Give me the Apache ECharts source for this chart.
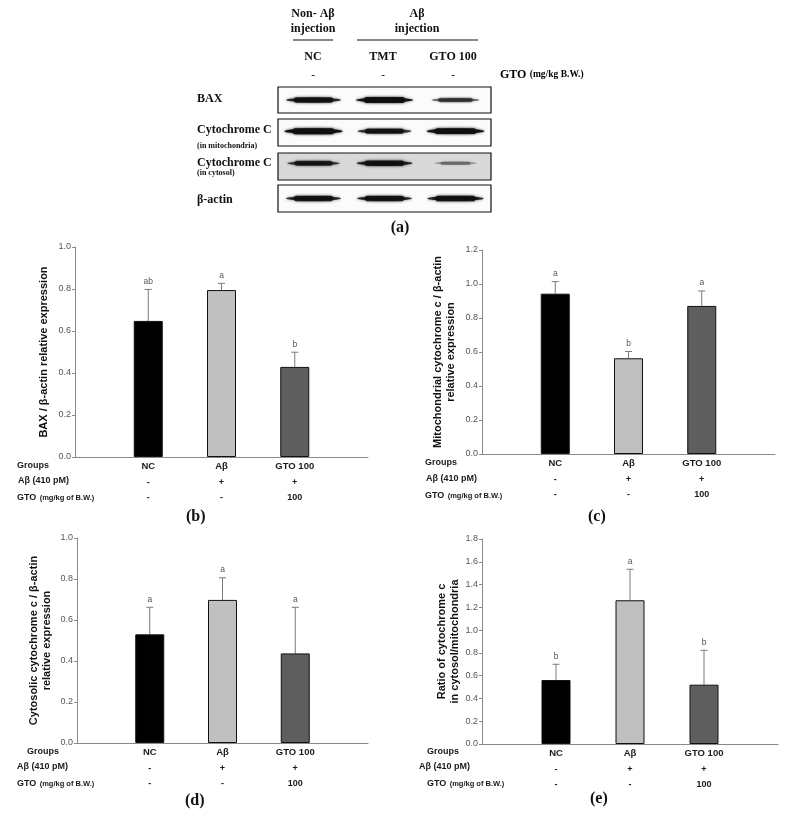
<!DOCTYPE html>
<html><head><meta charset="utf-8">
<script src="https://cdn.jsdelivr.net/npm/echarts@6/dist/echarts.min.js"></script>
<style>html,body{margin:0;padding:0;background:#fff}#c{width:785px;height:819px}</style>
</head><body><div id="c"></div>
<script>
// ---------- data ----------
const groups = ['NC', 'Aβ', 'GTO 100'];
const abRow = ['-', '+', '+'];
const gtoRow = ['-', '-', '100'];
const rowLabels = ['Groups', 'Aβ (410 pM)', 'GTO'];

const baxMean = [0.648, 0.795, 0.429];
const baxErr = [0.150, 0.032, 0.070];
const baxLetters = ['ab', 'a', 'b'];

const mitoMean = [0.943, 0.563, 0.871];
const mitoErr = [0.071, 0.040, 0.088];
const mitoLetters = ['a', 'b', 'a'];

const cytoMean = [0.530, 0.698, 0.437];
const cytoErr = [0.132, 0.108, 0.225];
const cytoLetters = ['a', 'a', 'a'];

const ratioMean = [0.562, 1.262, 0.521];
const ratioErr = [0.138, 0.272, 0.302];
const ratioLetters = ['b', 'a', 'b'];

const yTicksB = [0, 1.0];
const yTicksC = [0, 1.2];
const yTicksD = [0, 1.0];
const yTicksE = [0, 1.8];

const blotLanes = ['NC', 'TMT', 'GTO 100'];
const blotDose = ['-', '-', '-'];
const blotNames = ['BAX', 'Cytochrome C', 'Cytochrome C', 'β-actin'];
const blotSub = ['', '(in mitochondria)', '(in cytosol)', ''];
const bandBAX = [0.85, 0.95, 0.55];
const bandMito = [1.0, 0.80, 0.97];
const bandCytosol = [0.75, 0.88, 0.30];
const bandActin = [0.85, 0.85, 0.90];

// ---------- layout / style ----------
const SANS = 'Liberation Sans, Arial, sans-serif';
const SERIF = 'Liberation Serif, Times New Roman, serif';
const barColors = ['#000000', '#c0c0c0', '#5e5e5e'];
const axisGray = '#8a8a8a';

const panels = [
  {left:75, top:247, width:293, height:210, ticks:yTicksB, mean:baxMean, err:baxErr, letters:baxLetters,
   title:'BAX / β-actin relative expression', gap:25, rowX:[17,18,17], rowY:[467,482,498], tag:'(b)', tagX:196, tagY:518},
  {left:482, top:250, width:293, height:204, ticks:yTicksC, mean:mitoMean, err:mitoErr, letters:mitoLetters,
   title:'Mitochondrial cytochrome c / β-actin\nrelative expression', gap:25, rowX:[425,426,425], rowY:[464,480,496], tag:'(c)', tagX:598, tagY:518},
  {left:77, top:538, width:291, height:205, ticks:yTicksD, mean:cytoMean, err:cytoErr, letters:cytoLetters,
   title:'Cytosolic cytochrome c / β-actin\nrelative expression', gap:24, rowX:[27,17,17], rowY:[753,768,784], tag:'(d)', tagX:195, tagY:802},
  {left:482, top:539, width:296, height:205, ticks:yTicksE, mean:ratioMean, err:ratioErr, letters:ratioLetters,
   title:'Ratio of cytochrome c\nin cytosol/mitochondria', gap:21, rowX:[427,419,427], rowY:[753,768,784], tag:'(e)', tagX:600, tagY:800}
];

const blots = [
  {top:87, height:26, bands:bandBAX, bg:'#fbfbfb', cy:0.5, labelY:100, subY:0},
  {top:119, height:27, bands:bandMito, bg:'#fbfbfb', cy:0.55, labelY:131, subY:147},
  {top:153, height:27, bands:bandCytosol, bg:'#d9d9d9', cy:0.62, labelY:163.5, subY:174},
  {top:185, height:27, bands:bandActin, bg:'#fbfbfb', cy:0.5, labelY:201, subY:0}
];
const blotLeft = 278, blotWidth = 213;

const grids = [], xAxes = [], yAxes = [], series = [], graphics = [];

panels.forEach((p, k) => {
  grids.push({left:p.left, top:p.top, width:p.width, height:p.height, containLabel:false});
  xAxes.push({
    gridIndex:k, type:'category', boundaryGap:false, data:['', ...groups, ''],
    axisLine:{show:true, lineStyle:{color:axisGray, width:1}}, axisTick:{show:false},
    axisLabel:{interval:0, margin:2,
      formatter:(v, i) => (i >= 1 && i <= 3) ? `{g|${groups[i-1]}}\n{r|${abRow[i-1]}}\n{r|${gtoRow[i-1]}}` : '',
      rich:{
        g:{fontFamily:SANS, fontWeight:'bold', fontSize:9.5, lineHeight:15.5, color:'#1a1a1a'},
        r:{fontFamily:SANS, fontWeight:'bold', fontSize:9, lineHeight:15.5, color:'#1a1a1a'}
      }}
  });
  yAxes.push({
    gridIndex:k, type:'value', min:p.ticks[0], max:p.ticks[1], interval:0.2,
    name:p.title, nameLocation:'middle', nameRotate:90, nameGap:p.gap,
    nameTextStyle:{fontFamily:SANS, fontWeight:'bold', fontSize:11, color:'#111', lineHeight:13},
    axisLine:{show:true, lineStyle:{color:axisGray, width:1}},
    axisTick:{show:true, length:3, lineStyle:{color:axisGray}},
    splitLine:{show:false},
    axisLabel:{formatter:v => v.toFixed(1), fontFamily:SANS, fontSize:9, color:'#555', margin:4}
  });
  series.push({
    type:'bar', xAxisIndex:k, yAxisIndex:k, barWidth:29, z:3, silent:true,
    itemStyle:{borderColor:'#111', borderWidth:1},
    data:[null, ...p.mean.map((v, i) => ({value:v, itemStyle:{color:barColors[i]}})), null]
  });
  const letters = p.letters;
  series.push({
    type:'custom', xAxisIndex:k, yAxisIndex:k, z:2, silent:true,
    encode:{x:0, y:1},
    data:p.mean.map((m, i) => [i + 1, m, p.err[i]]),
    renderItem:(params, api) => {
      const x = api.value(0), m = api.value(1), e = api.value(2);
      const p0 = api.coord([x, m]), p1 = api.coord([x, m + e]);
      return {type:'group', children:[
        {type:'line', shape:{x1:p0[0], y1:p0[1], x2:p1[0], y2:p1[1]}, style:{stroke:'#7a7a7a', lineWidth:1}},
        {type:'line', shape:{x1:p1[0]-3.5, y1:p1[1], x2:p1[0]+3.5, y2:p1[1]}, style:{stroke:'#7a7a7a', lineWidth:1}},
        {type:'text', style:{text:letters[params.dataIndex], x:p1[0], y:p1[1]-8, align:'center', verticalAlign:'middle',
          font:'8.5px ' + SANS, fill:'#555'}}
      ]};
    }
  });
  // row labels
  graphics.push({type:'text', left:p.rowX[0], top:p.rowY[0]-6, style:{text:rowLabels[0], font:'bold 9px ' + SANS, fill:'#1a1a1a'}});
  graphics.push({type:'text', left:p.rowX[1], top:p.rowY[1]-6, style:{text:rowLabels[1], font:'bold 9px ' + SANS, fill:'#1a1a1a'}});
  graphics.push({type:'text', left:p.rowX[2], top:p.rowY[2]-6, style:{
    text:'{a|' + rowLabels[2] + '} {b|(mg/kg of B.W.)}',
    rich:{a:{fontFamily:SANS, fontWeight:'bold', fontSize:9, fill:'#1a1a1a', color:'#1a1a1a'},
          b:{fontFamily:SANS, fontWeight:'bold', fontSize:7.5, fill:'#1a1a1a', color:'#1a1a1a'}}}});
  graphics.push({type:'text', left:p.tagX-10, top:p.tagY-9, style:{text:p.tag, font:'bold 16px ' + SERIF, fill:'#111'}});
});

// blots
blots.forEach((b, j) => {
  const k = panels.length + j;
  grids.push({left:blotLeft, top:b.top, width:blotWidth, height:b.height, show:true,
    borderColor:'#111', borderWidth:1.2, backgroundColor:b.bg});
  xAxes.push({gridIndex:k, type:'category', data:blotLanes, show:false});
  yAxes.push({gridIndex:k, type:'value', min:0, max:1, show:false});
  const cy = b.cy;
  series.push({
    type:'custom', xAxisIndex:k, yAxisIndex:k, silent:true, encode:{x:0, y:1},
    data:b.bands.map((v, i) => [i, v]),
    renderItem:(params, api) => {
      const i = api.value(0), v = api.value(1);
      const c = api.coord([i, cy]);
      const lw = api.size([1, 0])[0];
      const w = lw * (0.5 + 0.32 * v);
      const h = 2.5 + v * 3.5;
      const col = 'rgba(15,15,15,' + v + ')';
      return {type:'group', children:[
        {type:'ellipse', shape:{cx:c[0], cy:c[1], rx:w/2, ry:h/2*0.8},
          style:{fill:col, shadowBlur:3, shadowColor:'rgba(0,0,0,' + (0.7*v) + ')'}},
        {type:'rect', shape:{x:c[0]-w*0.36, y:c[1]-h/2, width:w*0.72, height:h, r:h/2},
          style:{fill:col, shadowBlur:3, shadowColor:'rgba(0,0,0,' + (0.7*v) + ')'}}
      ]};
    }
  });
  graphics.push({type:'text', left:197, top:b.labelY-7, style:{text:blotNames[j], font:'bold 12px ' + SERIF, fill:'#111'}});
  if (blotSub[j]) graphics.push({type:'text', left:197, top:b.subY-5, style:{text:blotSub[j], font:'bold 8px ' + SERIF, fill:'#111'}});
});

// blot headers
const laneX = [313, 383, 453];
const hdr = (txt, x, y, size) => graphics.push({type:'text', x:x, y:y, style:{text:txt, font:'bold ' + size + 'px ' + SERIF, fill:'#111', align:'center', verticalAlign:'middle'}});
hdr('Non- Aβ', 313, 14, 12); hdr('injection', 313, 29, 12);
hdr('Aβ', 417, 14, 12); hdr('injection', 417, 29, 12);
blotLanes.forEach((l, i) => { hdr(l, laneX[i], 57, 12); hdr(blotDose[i], laneX[i], 75, 11); });
graphics.push({type:'text', x:500, y:75, style:{text:'{a|GTO} {b|(mg/kg B.W.)}', verticalAlign:'middle',
  rich:{a:{fontFamily:SERIF, fontWeight:'bold', fontSize:12, color:'#111'}, b:{fontFamily:SERIF, fontWeight:'bold', fontSize:9.5, color:'#111'}}}});
graphics.push({type:'line', shape:{x1:293, y1:40, x2:333, y2:40}, style:{stroke:'#111', lineWidth:1.2}});
graphics.push({type:'line', shape:{x1:357, y1:40, x2:478, y2:40}, style:{stroke:'#111', lineWidth:1.2}});
graphics.push({type:'text', x:400, y:228, style:{text:'(a)', font:'bold 16px ' + SERIF, fill:'#111', align:'center', verticalAlign:'middle'}});

const chart = echarts.init(document.getElementById('c'), null, {renderer:'canvas'});
chart.setOption({
  animation:false, backgroundColor:'#ffffff',
  grid:grids, xAxis:xAxes, yAxis:yAxes, series:series, graphic:graphics
});
</script></body></html>
